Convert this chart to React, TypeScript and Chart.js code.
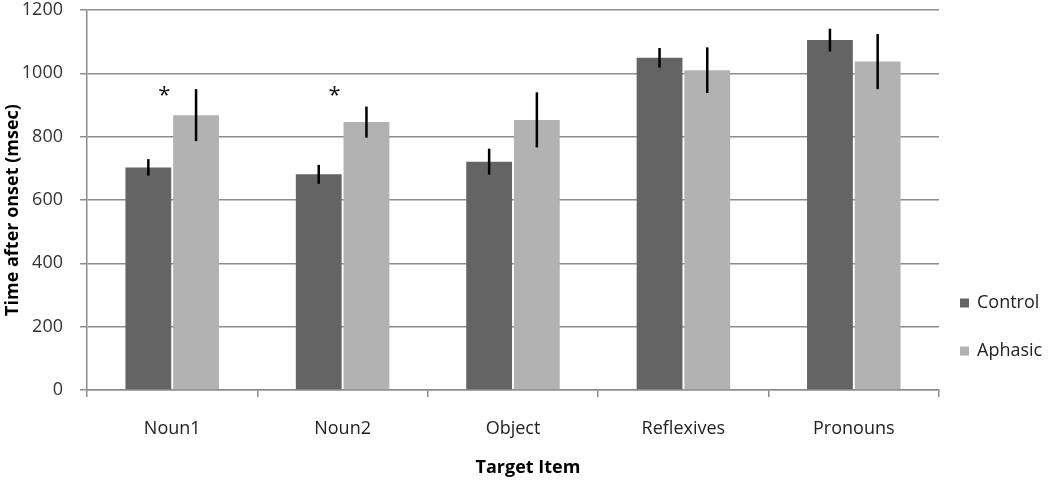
import React, { useEffect, useRef } from 'react';
import { Chart, registerables } from 'chart.js';

Chart.register(...registerables);

const categories = ['Noun1', 'Noun2', 'Object', 'Reflexives', 'Pronouns'];
const controlMeans = [703, 681, 721, 1049, 1105];
const controlErrors = [26, 30, 41, 31, 36];
const aphasicMeans = [868, 846, 853, 1010, 1037];
const aphasicErrors = [82, 49, 87, 72, 87];
const significant = [true, true, false, false, false];
const asteriskLevel = 940;
const yMin = 0;
const yMax = 1200;
const yStep = 200;
const seriesNames = ['Control', 'Aphasic'];
const seriesColors = ['#646464', '#b2b2b2'];
const xTitle = 'Target Item';
const yTitle = 'Time after onset (msec)';

const FONT = '"Open Sans", "Liberation Sans", sans-serif';

const overlayPlugin = {
  id: 'overlay',
  afterDatasetsDraw(chart: any) {
    const ctx = chart.ctx;
    const y = chart.scales.y;
    const x = chart.scales.x;
    const sets: [number, number[], number[]][] = [
      [0, controlMeans, controlErrors],
      [1, aphasicMeans, aphasicErrors],
    ];
    ctx.save();
    ctx.strokeStyle = '#000';
    ctx.lineWidth = 2.5;
    sets.forEach(([di, means, errs]) => {
      const meta = chart.getDatasetMeta(di);
      meta.data.forEach((bar: any, i: number) => {
        ctx.beginPath();
        ctx.moveTo(bar.x, y.getPixelForValue(means[i] + errs[i]));
        ctx.lineTo(bar.x, y.getPixelForValue(means[i] - errs[i]));
        ctx.stroke();
      });
    });
    ctx.fillStyle = '#111';
    ctx.font = `22px ${FONT}`;
    ctx.textAlign = 'center';
    ctx.textBaseline = 'middle';
    significant.forEach((s, i) => {
      if (!s) return;
      ctx.fillText('*', x.getPixelForValue(i) - 8, y.getPixelForValue(asteriskLevel) + 3);
    });
    ctx.restore();
  },
  afterDraw(chart: any) {
    const ctx = chart.ctx;
    const area = chart.chartArea;
    ctx.save();
    ctx.font = `18px ${FONT}`;
    ctx.textAlign = 'left';
    ctx.textBaseline = 'middle';
    const legendY = [303, 351];
    seriesNames.forEach((name, i) => {
      ctx.fillStyle = seriesColors[i];
      ctx.fillRect(960, legendY[i] - 4.5, 9, 9);
      ctx.fillStyle = '#222';
      ctx.fillText(name, 977, legendY[i]);
    });
    ctx.fillStyle = '#000';
    ctx.font = `bold 18px ${FONT}`;
    ctx.textAlign = 'center';
    ctx.fillText(xTitle, (area.left + area.right) / 2 + 15, 468);
    ctx.translate(13, (area.top + area.bottom) / 2 + 10);
    ctx.rotate(-Math.PI / 2);
    ctx.fillText(yTitle, 0, 0);
    ctx.restore();
  },
};

export default function App() {
  const ref = useRef<HTMLCanvasElement | null>(null);
  useEffect(() => {
    if (!ref.current) return;
    const chart = new Chart(ref.current, {
      type: 'bar',
      data: {
        labels: categories,
        datasets: [
          {
            label: seriesNames[0],
            data: controlMeans,
            backgroundColor: seriesColors[0],
            categoryPercentage: 0.56,
            barPercentage: 0.96,
          },
          {
            label: seriesNames[1],
            data: aphasicMeans,
            backgroundColor: seriesColors[1],
            categoryPercentage: 0.56,
            barPercentage: 0.96,
          },
        ],
      },
      options: {
        animation: false,
        responsive: false,
        layout: { padding: { top: 0, right: 111, left: 0, bottom: 0 } },
        plugins: { legend: { display: false }, tooltip: { enabled: false } },
        scales: {
          x: {
            afterFit(scale: any) {
              scale.height = 95;
            },
            grid: {
              display: true,
              drawOnChartArea: false,
              drawTicks: true,
              tickLength: 7,
              offset: true,
              color: '#8c8c8c',
              lineWidth: 1.5,
            },
            border: { display: true, color: '#8c8c8c', width: 1.5 },
            ticks: {
              color: '#222',
              font: { family: FONT, size: 18 },
              padding: 21,
            },
          },
          y: {
            min: yMin,
            max: yMax,
            afterFit(scale: any) {
              scale.width = 87;
              scale.paddingTop = 10;
            },
            ticks: {
              stepSize: yStep,
              color: '#333',
              font: { family: FONT, size: 18 },
              padding: 17,
              callback: (v: any) => String(v),
            },
            grid: {
              color: '#8c8c8c',
              lineWidth: 1.5,
              tickLength: 7,
            },
            border: { display: true, color: '#8c8c8c', width: 1.5 },
          },
        },
      },
      plugins: [overlayPlugin],
    });
    return () => chart.destroy();
  }, []);
  return (
    <div style={{ position: 'absolute', left: 0, top: 0, width: 1050, height: 485, background: '#fff' }}>
      <canvas ref={ref} width={1050} height={485} style={{ display: 'block' }} />
    </div>
  );
}
